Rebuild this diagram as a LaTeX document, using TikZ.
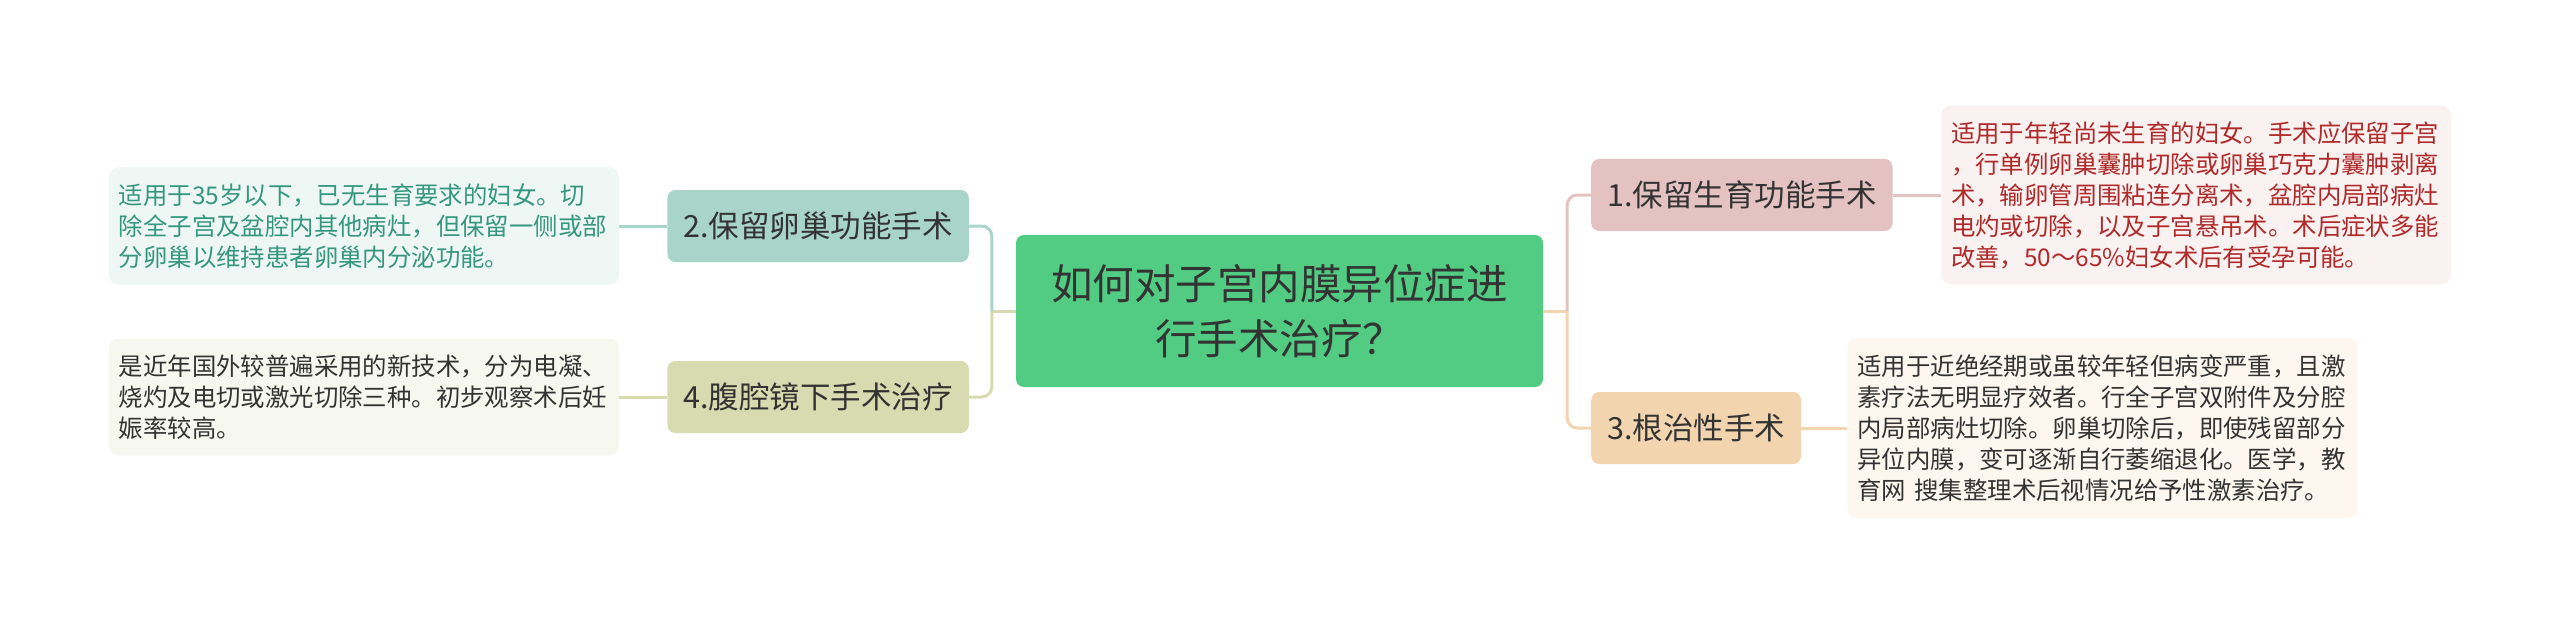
\documentclass[tikz,border=0pt]{standalone}
\usepackage{fontspec}
\setmainfont{Noto Sans CJK SC}
\usepackage{tikz}
\usetikzlibrary{positioning}
\definecolor{rootgreen}{HTML}{52CC83}
\definecolor{textgray}{HTML}{333333}
\definecolor{tealtopic}{HTML}{A8D4CA}
\definecolor{olivetopic}{HTML}{D7DBAF}
\definecolor{pinktopic}{HTML}{E5C2C2}
\definecolor{peachtopic}{HTML}{F2D4AF}
\definecolor{tealleaf}{HTML}{EFF7F5}
\definecolor{oliveleaf}{HTML}{F6F7EF}
\definecolor{pinkleaf}{HTML}{FAF1F1}
\definecolor{peachleaf}{HTML}{FDF7F0}
\definecolor{tealtext}{HTML}{35977F}
\definecolor{redtext}{HTML}{B02A2A}
\tikzset{
	mind map sketch/.style={
		x=1pt,y=-1pt, % work in pixels of the picture
		node distance=48pt,
		every node/.style={text=textgray,inner sep=0pt},
		branch edge/.style={
			line width=3pt,
			rounded corners=10pt
		}
	},
	root/.style={
		rectangle,
		rounded corners=8pt,
		fill=rootgreen,
		minimum width=527pt,
		minimum height=152pt,
		align=center,
		font=\fontsize{41.5}{55}\selectfont
	},
	topic/.style={
		rectangle,
		rounded corners=8pt,
		minimum height=72pt,
		inner xsep=16pt,
		font=\fontsize{30.5}{36}\selectfont
	},
	leaf/.style={
		rectangle,
		rounded corners=10pt,
		text width=490pt,
		inner xsep=10pt,
		align=left,
		font=\fontsize{24.4}{31}\selectfont
	}
}

\begin{document}
\begin{tikzpicture}[mind map sketch]
	\useasboundingbox (0,0) rectangle (2560,623);
	\node[root] (root) at (1279.5,311) {如何对子宫内膜异位症进\\行手术治疗？};
	% left side
	\node[topic,fill=tealtopic,anchor=east] (b2) at (969,226) {2.保留卵巢功能手术};
	\node[topic,fill=olivetopic,anchor=east] (b4) at (969,397) {4.腹腔镜下手术治疗};
	\node[leaf,fill=tealleaf,text=tealtext,minimum height=118pt,left=of b2] (l2) {适用于35岁以下，已无生育要求的妇女。切\\除全子宫及盆腔内其他病灶，但保留一侧或部\\分卵巢以维持患者卵巢内分泌功能。};
	\node[leaf,fill=oliveleaf,minimum height=117pt,left=of b4] (l4) {是近年国外较普遍采用的新技术，分为电凝、\\烧灼及电切或激光切除三种。初步观察术后妊\\娠率较高。};
	% right side
	\node[topic,fill=pinktopic,anchor=west] (b1) at (1591,195) {1.保留生育功能手术};
	\node[topic,fill=peachtopic,anchor=west] (b3) at (1591,428) {3.根治性手术};
	\node[leaf,fill=pinkleaf,text=redtext,minimum height=179pt,right=of b1] (l1) {适用于年轻尚未生育的妇女。手术应保留子宫\\，行单例卵巢囊肿切除或卵巢巧克力囊肿剥离\\术，输卵管周围粘连分离术，盆腔内局部病灶\\电灼或切除，以及子宫悬吊术。术后症状多能\\改善，50～65\%妇女术后有受孕可能。};
	\node[leaf,fill=peachleaf,minimum height=181pt,right=46pt of b3] (l3) {适用于近绝经期或虽较年轻但病变严重，且激\\素疗法无明显疗效者。行全子宫双附件及分腔\\内局部病灶切除。卵巢切除后，即使残留部分\\异位内膜，变可逐渐自行萎缩退化。医学，教\\育网 搜集整理术后视情况给予性激素治疗。};
	% connectors
	\coordinate (lj) at ([xshift=-24pt]root.west);
	\coordinate (rj) at ([xshift=24pt]root.east);
	\draw[branch edge,draw=olivetopic] (root.west) -- (lj);
	\draw[branch edge,draw=tealtopic] (lj) |- (b2.east);
	\draw[branch edge,draw=olivetopic] (lj) |- (b4.east);
	\draw[branch edge,draw=peachtopic] (root.east) -- (rj);
	\draw[branch edge,draw=pinktopic] (rj) |- (b1.west);
	\draw[branch edge,draw=peachtopic] (rj) |- (b3.west);
	\draw[branch edge,draw=tealtopic] (b2.west) -- (l2.east);
	\draw[branch edge,draw=olivetopic] (b4.west) -- (l4.east);
	\draw[branch edge,draw=pinktopic] (b1.east) -- (l1.west);
	\draw[branch edge,draw=peachtopic] (b3.east) -- (l3.west);
\end{tikzpicture}
\end{document}
